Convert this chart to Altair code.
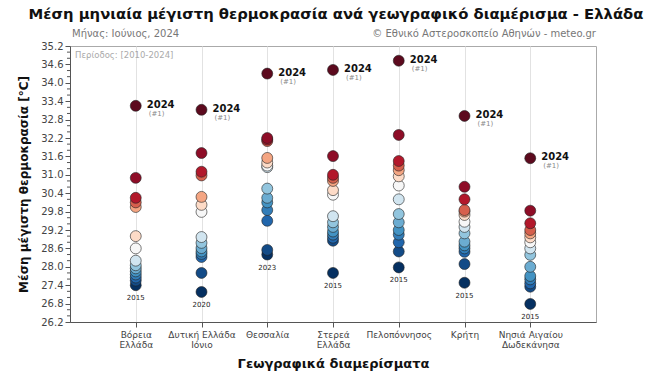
import altair as alt
import pandas as pd

# ---- data ----
regions = ["Βόρεια\nΕλλάδα", "Δυτική Ελλάδα\nΙόνιο", "Θεσσαλία", "Στερεά\nΕλλάδα",
           "Πελοπόννησος", "Κρήτη", "Νησιά Αιγαίου\nΔωδεκάνησα"]

north = [33.25, 30.9, 30.25, 30.1, 29.95, 29.0, 28.6, 28.2, 28.05, 27.95, 27.85, 27.75, 27.65, 27.55, 27.4]
west = [33.12, 31.71, 31.1, 30.98, 30.28, 30.02, 29.79, 28.97, 28.78, 28.61, 28.5, 28.42, 28.32, 27.8, 27.18]
thessaly = [34.3, 32.2, 32.15, 32.1, 31.55, 31.4, 31.3, 31.25, 30.55, 30.25, 30.1, 29.85, 29.5, 28.55, 28.4]
central = [34.42, 31.61, 31.0, 30.9, 30.8, 30.5, 30.35, 29.65, 29.45, 29.3, 29.15, 29.05, 28.95, 28.85, 27.8]
pelop = [34.72, 32.3, 31.45, 31.3, 31.15, 30.95, 30.65, 30.2, 29.72, 29.45, 29.2, 29.05, 28.8, 28.5, 27.98]
crete = [32.92, 30.61, 30.2, 29.85, 29.8, 29.69, 29.47, 29.3, 29.09, 28.82, 28.7, 28.6, 28.49, 28.09, 27.48]
islands = [31.54, 29.83, 29.42, 29.2, 29.09, 28.96, 28.8, 28.6, 28.39, 28.0, 27.7, 27.59, 27.46, 27.35, 26.79]

series = [north, west, thessaly, central, pelop, crete, islands]
min_years = ["2015", "2020", "2023", "2015", "2015", "2015", "2015"]
y_ticks = [26.2, 26.8, 27.4, 28.0, 28.6, 29.2, 29.8, 30.4, 31.0, 31.6, 32.2, 32.8, 33.4, 34.0, 34.6, 35.2]
minor_ticks = [26.4, 26.6, 27.0, 27.2, 27.6, 27.8, 28.2, 28.4, 28.8, 29.0, 29.4, 29.6, 30.0, 30.2,
               30.6, 30.8, 31.2, 31.4, 31.8, 32.0, 32.4, 32.6, 33.0, 33.2, 33.6, 33.8, 34.2, 34.4,
               34.8, 35.0]
rank_stops = [1, 3, 5, 7, 8, 9, 10, 11, 12, 13, 14, 15]
rank_colors = ["#053061", "#2166ac", "#4393c3", "#92c5de", "#d1e5f0", "#f7f7f7",
               "#fddbc7", "#f4a582", "#d6604d", "#b2182b", "#8e0d27", "#5c0a1e"]

rows = []
for r, vals in zip(regions, series):
    for v in vals:
        rows.append({"region": r, "temp": v})
df = pd.DataFrame(rows)

top = pd.DataFrame({"region": regions, "temp": [max(v) for v in series]})
bottom = pd.DataFrame({"region": regions, "temp": [min(v) for v in series], "year": min_years})
minor_df = pd.DataFrame({"temp": minor_ticks})

FONT = "DejaVu Sans"

x_scale = alt.Scale(type="point", padding=1)
y_scale = alt.Scale(domain=[26.2, 35.2], nice=False, zero=False)

x_axis = alt.Axis(title="Γεωγραφικά διαμερίσματα", titleFontSize=13, titleFontWeight="bold",
                  titleColor="#111", titlePadding=8, labelAngle=0,
                  labelExpr="split(datum.label, '\\n')", labelFontSize=9,
                  labelColor="#444", labelFont=FONT, titleFont=FONT,
                  grid=True, gridColor="#e2e2e2", tickSize=5, tickColor="#555",
                  domainColor="#555", labelPadding=3, labelLineHeight=10)
y_axis = alt.Axis(title="Μέση μέγιστη θερμοκρασία [°C]", values=y_ticks, format=".1f",
                  labelOverlap=False,
                  titleFontSize=12, titleFontWeight="bold", titleColor="#111",
                  titleFont=FONT, labelFont=FONT, labelFontSize=10, labelColor="#444",
                  grid=False, tickSize=5, tickColor="#555", domainColor="#555",
                  titlePadding=10)

x_enc = alt.X("region:N", sort=regions, scale=x_scale, axis=x_axis)
y_enc = alt.Y("temp:Q", scale=y_scale, axis=y_axis)

points = alt.Chart(df).transform_window(
    rank="rank()", groupby=["region"], sort=[alt.SortField("temp", order="ascending")]
).mark_circle(size=120, opacity=1, stroke="#222", strokeWidth=0.6).encode(
    x=x_enc, y=y_enc,
    color=alt.Color("rank:Q", scale=alt.Scale(domain=rank_stops, range=rank_colors, interpolate="rgb"),
                    legend=None),
    order=alt.Order("rank:Q")
)

lbl_year = alt.Chart(top).mark_text(align="left", baseline="middle", dx=11, dy=-1, fontSize=10,
                                    fontWeight="bold", font=FONT, color="#111").encode(
    x=x_enc, y=y_enc, text=alt.value("2024"))
lbl_rank = alt.Chart(top).mark_text(align="left", baseline="middle", dx=13, dy=8, fontSize=7,
                                    font=FONT, color="#888").encode(
    x=x_enc, y=y_enc, text=alt.value("(#1)"))
lbl_min = alt.Chart(bottom).mark_text(align="center", baseline="middle", dy=13, fontSize=7,
                                      font=FONT, color="#222").encode(
    x=x_enc, y=y_enc, text="year:N")

minor = alt.Chart(minor_df).mark_rule(color="#555", strokeWidth=1).encode(
    y=y_enc, x=alt.value(-3), x2=alt.value(0))

ann = pd.DataFrame({"a": [0]})
title = alt.Chart(ann).mark_text(fontSize=14.8, fontWeight="bold", font=FONT, color="#111",
                                 align="center", baseline="middle").encode(
    x=alt.value(266), y=alt.value(-31),
    text=alt.value("Μέση μηνιαία μέγιστη θερμοκρασία ανά γεωγραφικό διαμέρισμα - Ελλάδα"))
month = alt.Chart(ann).mark_text(fontSize=10, font=FONT, color="#777", align="left",
                                 baseline="middle").encode(
    x=alt.value(2), y=alt.value(-12), text=alt.value("Μήνας: Ιούνιος, 2024"))
copy = alt.Chart(ann).mark_text(fontSize=10, font=FONT, color="#777", align="right",
                                baseline="middle").encode(
    x=alt.value(526), y=alt.value(-12), text=alt.value("© Εθνικό Αστεροσκοπείο Αθηνών - meteo.gr"))
period = alt.Chart(ann).mark_text(fontSize=8.5, font=FONT, color="#aaa", align="left",
                                  baseline="middle").encode(
    x=alt.value(5), y=alt.value(9), text=alt.value("Περίοδος: [2010-2024]"))

chart = alt.layer(points, minor, lbl_year, lbl_rank, lbl_min, title, month, copy, period).properties(
    width=526, height=276,
    autosize=alt.AutoSizeParams(type="none"),
    padding={"left": 70, "top": 46, "right": 65, "bottom": 55},
    background="white"
).configure_view(stroke="#aaa", strokeWidth=1)

chart.save("out.html", embed_options={"renderer": "svg", "actions": False})
